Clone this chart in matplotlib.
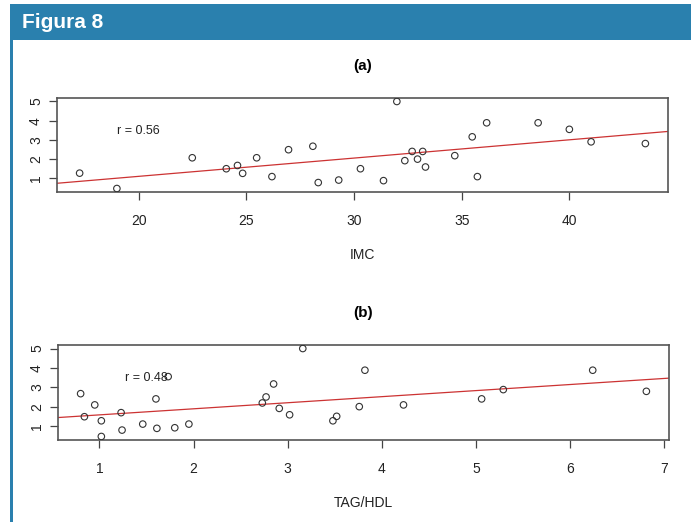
import numpy as np
import matplotlib
matplotlib.use("Agg")
import matplotlib.pyplot as plt

# panel (a): IMC vs y
imc = [17.26, 18.99, 22.49, 24.07, 24.59, 24.83, 25.48, 26.19, 26.96, 28.09,
       28.34, 29.29, 30.30, 31.99, 31.37, 32.36, 32.70, 32.95, 33.19, 33.32,
       34.68, 35.49, 35.73, 36.16, 38.55, 40.00, 41.01, 43.53]
y_a = [1.27, 0.47, 2.07, 1.50, 1.67, 1.26, 2.07, 1.09, 2.49, 2.67,
       0.78, 0.91, 1.50, 5.00, 0.88, 1.92, 2.40, 2.00, 2.40, 1.59,
       2.18, 3.16, 1.09, 3.89, 3.89, 3.55, 2.90, 2.81]

# panel (b): TAG/HDL vs y
tag_hdl = [0.80, 0.84, 0.95, 1.02, 1.02, 1.23, 1.24, 1.46, 1.60, 1.61,
           1.73, 1.80, 1.95, 2.73, 2.77, 2.85, 2.91, 3.02, 3.16, 3.48,
           3.52, 3.76, 3.82, 4.23, 5.06, 5.29, 6.24, 6.81]
y_b = [2.67, 1.48, 2.09, 1.27, 0.46, 1.69, 0.79, 1.10, 2.40, 0.88,
       3.55, 0.91, 1.10, 2.19, 2.50, 3.17, 1.91, 1.58, 5.00, 1.27,
       1.50, 2.00, 3.88, 2.09, 2.40, 2.88, 3.88, 2.79]

BLUE = "#2a80ae"
W, H = 691, 522

plt.rcParams["font.family"] = ["Liberation Sans", "DejaVu Sans"]

fig = plt.figure(figsize=(W / 100, H / 100), dpi=100)

# header bar and left rule
fig.add_artist(plt.Rectangle((10 / W, 1 - 40 / H), 1 - 10 / W, 36 / H,
                             transform=fig.transFigure, color=BLUE, lw=0))
fig.add_artist(plt.Rectangle((10 / W, 0), 3 / W, 1 - 40 / H,
                             transform=fig.transFigure, color=BLUE, lw=0))
fig.text(22 / W, 1 - 22 / H, "Figura 8", color="white", fontsize=15,
         fontweight="bold", va="center", ha="left")


def rplot(box, x, y, xlabel, title, rtxt, rpos, xticks):
    l, t, r, b = box
    ax = fig.add_axes([l / W, 1 - b / H, (r - l) / W, (b - t) / H])
    ax.scatter(x, y, s=22, facecolors="none", edgecolors="#333333", lw=0.8, zorder=3)
    xmin, xmax = min(x), max(x)
    ymin, ymax = min(y), max(y)
    dx = (xmax - xmin) * 0.04
    dy = (ymax - ymin) * 0.04
    ax.set_xlim(xmin - dx, xmax + dx)
    ax.set_ylim(ymin - dy, ymax + dy)
    k, c = np.polyfit(x, y, 1)
    xx = np.array(ax.get_xlim())
    ax.plot(xx, k * xx + c, color="#cc3333", lw=0.9)
    ax.set_xticks(xticks)
    ax.set_yticks([1, 2, 3, 4, 5])
    ax.tick_params(direction="out", length=6, width=0.9, color="#444444",
                   labelsize=10, labelcolor="#222222")
    ax.tick_params(axis="x", pad=10)
    ax.tick_params(axis="y", pad=4)
    for lab in ax.get_yticklabels():
        lab.set_rotation(90)
        lab.set_va("center")
    for s in ax.spines.values():
        s.set_color("#555555")
        s.set_linewidth(1.2)
    ax.set_xlabel(xlabel, fontsize=10, color="#222222", labelpad=14)
    ax.set_title(title, fontsize=11, fontweight="bold", pad=20)
    ax.text(rpos[0], rpos[1], rtxt, fontsize=9, color="#222222",
            ha="center", va="center")
    return ax


rplot((57, 98, 668, 192), imc, y_a, "IMC", "(a)", "r = 0.56", (20.0, 3.45),
      [20, 25, 30, 35, 40])
rplot((58, 345, 669, 440), tag_hdl, y_b, "TAG/HDL", "(b)", "r = 0.48", (1.5, 3.5),
      [1, 2, 3, 4, 5, 6, 7])

fig.savefig("out.png", dpi=100)
